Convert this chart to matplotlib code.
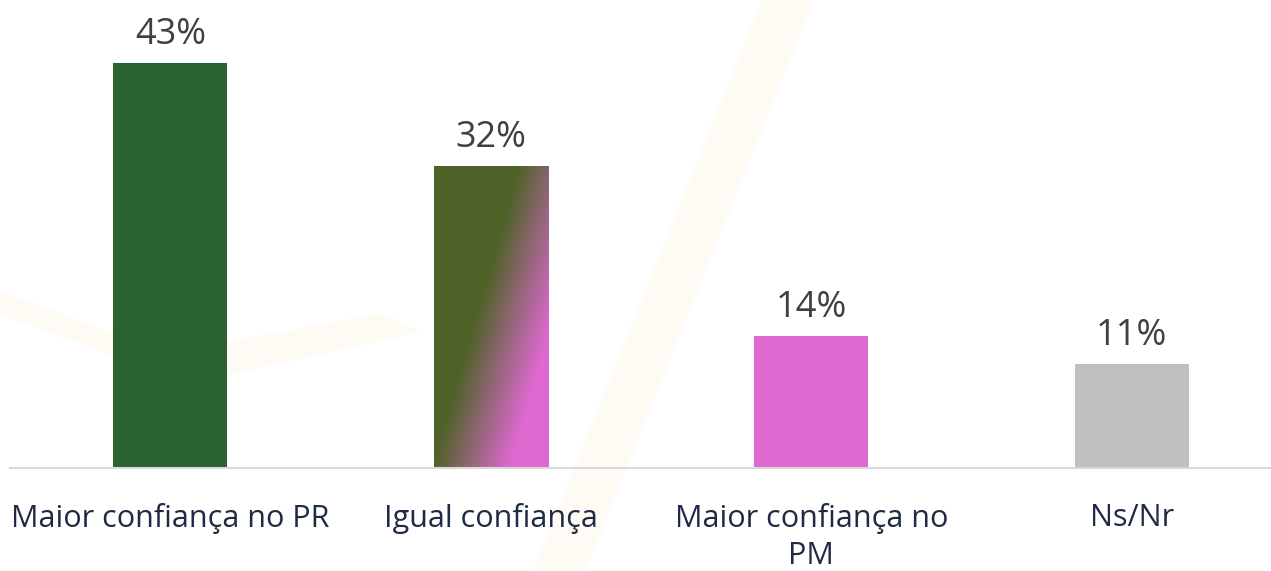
import numpy as np
import matplotlib.pyplot as plt
from matplotlib.patches import Polygon
from matplotlib.colors import LinearSegmentedColormap

categories = ["Maior confiança no PR", "Igual confiança", "Maior confiança no\nPM", "Ns/Nr"]
values = [43, 32, 14, 11]
labels = ["43%", "32%", "14%", "11%"]
colors = ["#2b6232", None, "#df69d1", "#bfbfbf"]

plt.rcParams['font.family'] = ['Open Sans', 'DejaVu Sans']

W, H = 1271, 571
fig = plt.figure(figsize=(W / 100, H / 100), dpi=100)
fig.patch.set_facecolor("white")

# faint watermark swooshes in the background
wm = "#fefaf4"
fig.patches.append(Polygon([(0.60, 1.0), (0.64, 1.0), (0.46, 0.0), (0.42, 0.0)],
                           closed=True, transform=fig.transFigure, color=wm, zorder=0))
fig.patches.append(Polygon([(0.0, 0.45), (0.15, 0.33), (0.33, 0.42), (0.30, 0.45), (0.13, 0.38), (0.0, 0.49)],
                           closed=True, transform=fig.transFigure, color=wm, zorder=0))

ax = fig.add_axes([10 / W, (H - 468) / H, (W - 10) / W, 468 / H])
ax.set_zorder(2)
ax.patch.set_alpha(0)

x = np.arange(len(values))
bar_w = 0.356
bars = ax.bar(x, values, width=bar_w, color=[c if c else "none" for c in colors], zorder=2)
ax.set_xlim(-0.5, (W - 10) / 320.5 - 0.5)
ax.set_ylim(0, 49.7)

# diagonal gradient for the "Igual confiança" bar
b = bars[1]
x0, y0 = b.get_x(), b.get_y()
bw, bh = b.get_width(), b.get_height()
nx, ny = 200, 400
gx, gy = np.meshgrid(np.linspace(x0, x0 + bw, nx), np.linspace(y0, y0 + bh, ny))
pts = ax.transData.transform(np.column_stack([gx.ravel(), gy.ravel()]))
px = pts[:, 0].reshape(gx.shape)
py = H - pts[:, 1].reshape(gy.shape)  # from top
s = (px - px.min()) + 0.29 * (py - py.min())
t = np.clip((s - 85) / 78, 0, 1)
cmap = LinearSegmentedColormap.from_list("gp", ["#4f6228", "#97667c", "#df69d1"])
ax.imshow(t, cmap=cmap, vmin=0, vmax=1, extent=(x0, x0 + bw, y0, y0 + bh),
          origin="lower", aspect="auto", zorder=2, interpolation="bilinear")
ax.set_xlim(-0.5, (W - 10) / 320.5 - 0.5)
ax.set_ylim(0, 49.7)

for xi, v, lab in zip(x, values, labels):
    ax.annotate(lab, (xi, v), xytext=(0, 7.5), textcoords="offset points",
                ha="center", va="bottom", fontsize=26, color="#404040")

ax.set_xticks(x)
ax.set_xticklabels(categories, fontsize=22, color="#1f2a44", linespacing=1.3)
ax.tick_params(axis="x", length=0, pad=25)
ax.set_yticks([])
for sp in ["top", "right", "left"]:
    ax.spines[sp].set_visible(False)
ax.spines["bottom"].set_color("#d9d9d9")
ax.spines["bottom"].set_linewidth(1.5)

fig.savefig("out.png", dpi=100)
